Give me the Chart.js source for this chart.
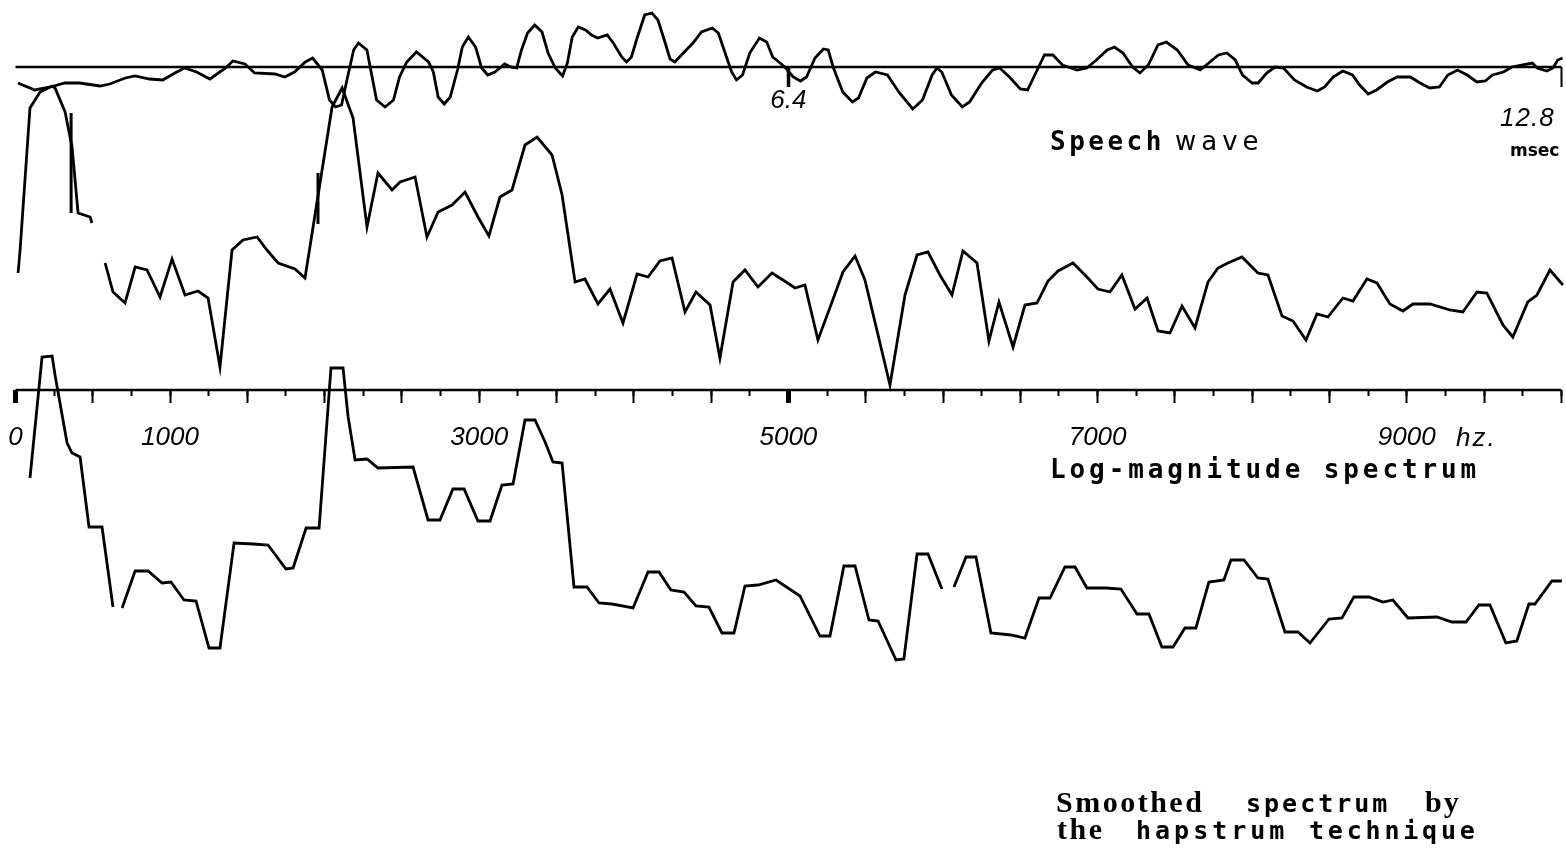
<!DOCTYPE html>
<html>
<head>
<meta charset="utf-8">
<script src="https://cdn.jsdelivr.net/npm/chart.js@4/dist/chart.umd.min.js"></script>
<style>
  html, body { margin: 0; padding: 0; background: #fff; }
  canvas { display: block; }
</style>
</head>
<body>
<canvas id="chart" width="1566" height="851"></canvas>
<script>
// speech wave: time in msec, amplitude (relative units, 0 = time axis)
var speechTime = [0.02,0.16,0.29,0.41,0.53,0.70,0.78,0.91,0.99,1.11,
  1.22,1.32,1.40,1.50,1.61,1.74,1.80,1.90,1.98,2.15,
  2.23,2.31,2.40,2.46,2.54,2.60,2.65,2.70,2.75,2.80,
  2.84,2.91,2.99,3.06,3.13,3.18,3.24,3.32,3.42,3.46,
  3.50,3.55,3.60,3.66,3.70,3.75,3.81,3.86,3.91,3.97,
  4.05,4.10,4.15,4.19,4.24,4.30,4.36,4.41,4.47,4.53,
  4.57,4.61,4.66,4.72,4.77,4.82,4.90,4.95,5.02,5.06,
  5.10,5.15,5.21,5.27,5.32,5.38,5.42,5.46,5.53,5.61,
  5.68,5.77,5.82,5.89,5.93,5.97,6.02,6.08,6.16,6.22,
  6.27,6.37,6.44,6.50,6.55,6.62,6.69,6.73,6.77,6.85,
  6.93,6.98,7.05,7.12,7.22,7.32,7.43,7.51,7.59,7.63,
  7.67,7.75,7.84,7.90,8.00,8.09,8.15,8.23,8.32,8.38,
  8.46,8.52,8.59,8.67,8.79,8.87,8.95,9.04,9.10,9.17,
  9.25,9.31,9.38,9.46,9.53,9.62,9.71,9.81,9.89,9.96,
  10.03,10.10,10.16,10.24,10.29,10.36,10.43,10.50,10.59,10.69,
  10.78,10.84,10.91,10.99,11.07,11.13,11.20,11.27,11.36,11.44,
  11.55,11.63,11.71,11.79,11.86,11.94,12.02,12.10,12.17,12.23,
  12.32,12.39,12.47,12.56,12.60,12.68,12.73,12.77,12.81];
var speechAmp = [-16,-23,-20,-16,-16,-19,-17,-11,-9,-12,
  -13,-6,-1,-5,-12,-1,6,3,-6,-7,
  -10,-5,5,9,-3,-33,-40,-38,-10,17,
  24,17,-33,-40,-33,-10,5,15,5,-5,
  -30,-37,-30,-3,20,30,20,-1,-8,-5,
  3,0,-1,17,34,42,35,14,-1,-9,
  4,30,40,37,32,29,32,24,10,5,
  10,30,52,54,47,24,8,5,14,24,
  35,39,34,9,-5,-13,-8,14,29,25,
  10,0,-10,-14,-10,9,18,17,0,-25,
  -35,-31,-11,-5,-8,-26,-42,-33,-8,-1,
  -5,-28,-40,-35,-16,-3,-1,-10,-22,-23,
  -3,12,12,2,-3,-1,7,17,20,14,
  0,-6,2,22,25,17,2,-3,5,12,
  14,7,-8,-16,-16,-6,0,-1,-13,-20,
  -24,-20,-10,-4,-8,-18,-27,-23,-15,-10,
  -10,-16,-21,-20,-8,-3,-8,-15,-14,-8,
  -5,0,2,4,-1,-4,-1,7,9];

// log-magnitude spectrum: frequency in hz, level (relative units)
var specFreq = [17,30,94,159,237,256,321,366,405,483,495,540,
  580,631,709,774,851,935,1013,1097,1181,1246,
  1323,1401,1472,1563,1627,1699,1808,1873,2048,2113,
  2184,2274,2345,2436,2488,2585,2662,2734,2824,2908,
  2992,3063,3134,3212,3296,3374,3471,3536,3620,3684,
  3768,3846,3930,4021,4092,4169,4247,4331,4402,4493,
  4557,4642,4719,4803,4894,4965,5043,5107,5191,5282,
  5353,5431,5495,5657,5754,5832,5903,5980,6058,6129,
  6220,6297,6362,6453,6530,6608,6679,6744,6841,6931,
  7002,7080,7157,7242,7320,7391,7468,7546,7630,7714,
  7779,7843,7934,8037,8102,8193,8264,8348,8419,8490,
  8587,8652,8742,8807,8891,8975,9040,9150,9279,9363,
  9454,9518,9622,9686,9783,9842,9926,10010];
var specLevel = [110,133,275,291,297,295,271,236,170,166,160,null,
  120,91,80,116,113,86,124,88,92,85,
  16,133,143,146,133,120,114,105,276,295,
  265,156,210,193,201,206,146,171,178,191,
  166,147,186,193,238,246,228,188,101,104,
  79,94,60,109,106,122,125,71,91,78,
  25,101,113,96,110,103,95,98,43,81,
  111,127,103,-2,88,128,131,108,88,132,
  120,42,81,36,78,80,102,112,120,106,
  94,91,108,74,85,52,50,77,55,101,
  115,120,126,110,108,67,62,43,69,66,
  85,82,104,100,79,72,79,79,73,71,
  91,90,58,46,81,88,113,98];

// the two short vertical marks on the spectrum
var markFreq = [360,360,1000,1957,1957];
var markLevel = [270,170,null,210,159];

// smoothed spectrum (hapstrum), same frequency scale
var smoothFreq = [94,172,237,256,288,334,366,418,476,560,
  631,660,690,774,858,948,1006,1090,1168,1252,
  1323,1414,1537,1634,1750,1796,1880,1964,2041,2119,
  2152,2197,2274,2345,2572,2669,2746,2830,2902,2992,
  3070,3147,3219,3296,3361,3426,3477,3536,3613,3697,
  3775,3859,3995,4092,4163,4240,4325,4402,4486,4570,
  4648,4719,4803,4920,5075,5204,5269,5359,5431,5521,
  5580,5696,5747,5832,5903,5993,6030,6071,6149,6213,
  6310,6440,6530,6621,6692,6789,6854,6931,7054,7151,
  7255,7332,7416,7488,7565,7636,7720,7817,7863,7947,
  8037,8102,8212,8296,8374,8497,8581,8658,8755,8846,
  8910,9008,9195,9292,9383,9467,9538,9641,9712,9790,
  9829,9939,10003];
var smoothLevel = [-95,26,27,8,-20,-60,-70,-74,-144,-144,
  -224,null,-225,-188,-188,-200,-199,-217,-218,-265,
  -265,-160,-161,-162,-186,-185,-145,-145,15,15,
  -34,-77,-76,-85,-84,-137,-137,-106,-106,-138,
  -138,-102,-101,-37,-37,-59,-79,-80,-204,-204,
  -220,-221,-225,-189,-189,-207,-209,-223,-224,-250,
  -250,-203,-202,-197,-213,-253,-253,-183,-183,-237,
  -238,-277,-276,-171,-171,-206,null,-204,-174,-174,
  -250,-252,-255,-215,-215,-184,-184,-205,-205,-206,
  -231,-231,-264,-264,-245,-245,-199,-197,-177,-177,
  -195,-196,-249,-249,-260,-236,-235,-214,-214,-219,
  -217,-235,-234,-239,-239,-222,-222,-260,-258,-221,
  -221,-198,-198];

// axes
var freqTickLabels = [0, 1000, 3000, 5000, 7000, 9000];
var timeTicks = [6.4, 12.8];
var specAxisLevel = -7;
var fMin = -100, fMax = 10030;
var msPerHz = 12.8 / 10000;   // 12.8 msec window <-> 10 khz

function pairs(xs, ys) {
  return xs.map(function(x, i) { return { x: x, y: ys[i] }; });
}
function stepTicks(step) {
  var out = [];
  for (var v = 0; v <= 10000; v += step) out.push({ value: v });
  return out;
}

// tick padding also eats into the chart width, so labels are pushed
// down with the line height instead
var freqTickFont = { family: 'Liberation Sans', style: 'italic', size: 26, lineHeight: '69px' };
var timeTickFont = { family: 'Liberation Sans', style: 'italic', size: 26, lineHeight: '28px' };

// free text on the figure
var labelPlugin = {
  id: 'labels',
  afterDraw: function(chart) {
    var ctx = chart.ctx;
    function put(text, x, y, font, spacing) {
      ctx.save();
      ctx.font = font;
      ctx.letterSpacing = (spacing || 0) + 'px';
      ctx.fillStyle = '#000';
      ctx.textBaseline = 'alphabetic';
      ctx.textAlign = 'left';
      ctx.fillText(text, x, y);
      ctx.restore();
    }
    var mono = 'bold 26px "DejaVu Sans Mono"';
    put('Speech', 1050, 150, mono, 3.5);
    put('wave', 1175, 150, '26px "DejaVu Sans"', 5);
    put('12.8', 1500, 126, 'italic 26px "Liberation Sans"', 1);
    put('msec', 1510, 156, 'bold 17px "DejaVu Sans"', 0);
    put('hz.', 1456, 446, 'italic 26px "Liberation Sans"', 2);
    put('Log-magnitude spectrum', 1050, 478, mono, 3.9);
    put('Smoothed', 1056, 812, 'bold 30px "Liberation Serif"', 2.5);
    put('spectrum', 1246, 812, 'bold 25px "DejaVu Sans Mono"', 3);
    put('by', 1425, 812, 'bold 30px "Liberation Serif"', 2);
    put('the', 1057, 839, 'bold 30px "Liberation Serif"', 2.5);
    put('hapstrum', 1136, 839, 'bold 25px "DejaVu Sans Mono"', 4);
    put('technique', 1309, 839, 'bold 25px "DejaVu Sans Mono"', 3.8);
  }
};

function trace(data, xAxis, yAxis, width) {
  return {
    data: data,
    xAxisID: xAxis,
    yAxisID: yAxis,
    borderColor: '#000',
    borderWidth: width,
    pointRadius: 0,
    tension: 0,
    fill: false
  };
}

var chart = new Chart('chart', {
  type: 'line',
  data: {
    datasets: [
      trace(pairs([0, 12.8], [0, 0]), 'xTime', 'ySpeech', 2.5),
      trace(pairs(speechTime, speechAmp), 'xTime', 'ySpeech', 2.8),
      trace(pairs([0, 10000], [specAxisLevel, specAxisLevel]), 'xFreq', 'ySpec', 2.5),
      trace(pairs(specFreq, specLevel), 'xFreq', 'ySpec', 2.8),
      trace(pairs(markFreq, markLevel), 'xFreq', 'ySpec', 3),
      trace(pairs(smoothFreq, smoothLevel), 'xFreq', 'ySpec', 2.8)
    ]
  },
  options: {
    responsive: false,
    animation: false,
    events: [],
    layout: { padding: 0 },
    plugins: { legend: { display: false }, tooltip: { enabled: false } },
    scales: {
      xFreq: {
        type: 'linear',
        position: { ySpec: specAxisLevel },
        min: fMin, max: fMax,
        afterBuildTicks: function(s) { s.ticks = stepTicks(500); },
        border: { display: false },
        grid: {
          drawOnChartArea: false, drawTicks: true, tickLength: 13, tickColor: '#000',
          tickWidth: function(c) { return (c.tick && (c.tick.value === 5000 || c.tick.value === 0)) ? 5 : 2; }
        },
        ticks: {
          autoSkip: false, maxRotation: 0, padding: 0, color: '#000', font: freqTickFont,
          callback: function(v) { return freqTickLabels.indexOf(v) >= 0 ? String(v) : ''; }
        }
      },
      xFreqMinor: {
        type: 'linear',
        position: { ySpec: specAxisLevel },
        min: fMin, max: fMax,
        afterBuildTicks: function(s) { s.ticks = stepTicks(250); },
        border: { display: false },
        grid: { drawOnChartArea: false, drawTicks: true, tickLength: 6, tickColor: '#000', tickWidth: 2 },
        ticks: { display: false }
      },
      xTime: {
        type: 'linear',
        position: { ySpeech: 0 },
        min: fMin * msPerHz, max: fMax * msPerHz,
        afterBuildTicks: function(s) { s.ticks = timeTicks.map(function(v) { return { value: v }; }); },
        border: { display: false },
        grid: {
          drawOnChartArea: false, drawTicks: true, tickLength: 20, tickColor: '#000',
          tickWidth: function(c) { return (c.tick && c.tick.value === 6.4) ? 3.5 : 2; }
        },
        ticks: {
          autoSkip: false, maxRotation: 0, padding: 0, color: '#000', font: timeTickFont,
          callback: function(v) { return v === 6.4 ? '6.4' : ''; }
        }
      },
      ySpec: { type: 'linear', display: false, min: -468, max: 383 },
      ySpeech: { type: 'linear', display: false, min: -784, max: 67 }
    }
  },
  plugins: [labelPlugin]
});
</script>
</body>
</html>
